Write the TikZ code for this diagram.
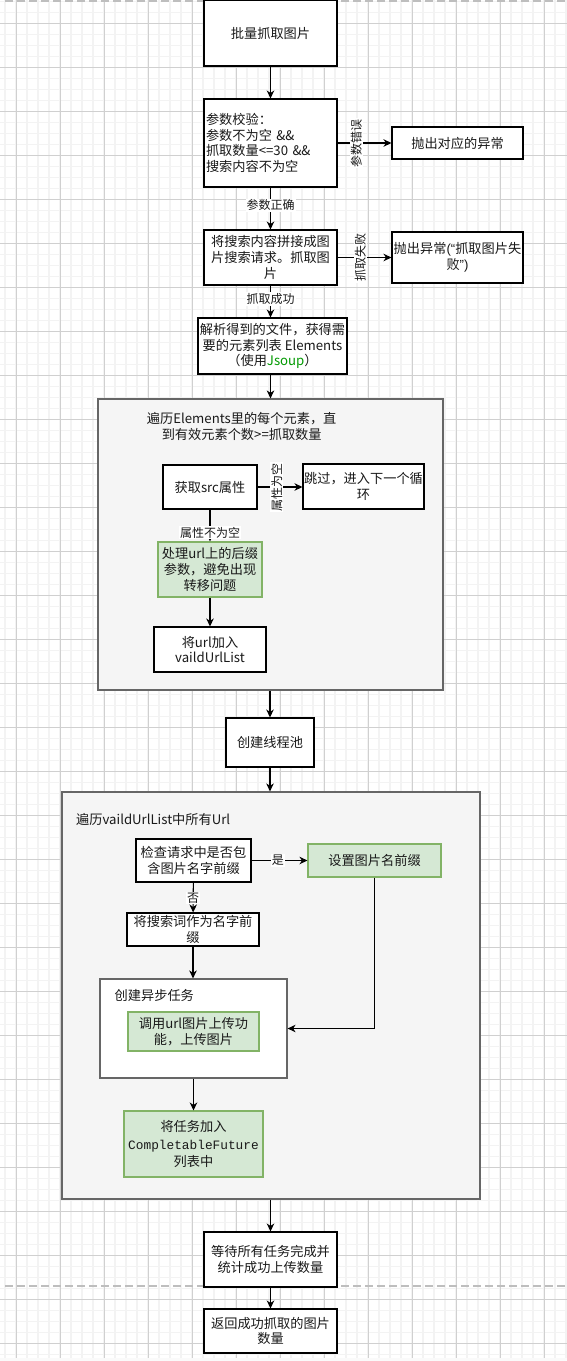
\documentclass[tikz,border=0pt]{standalone}
\usepackage{fontspec}
\setmainfont{Noto Sans CJK SC}
\newfontfamily\monofont{Liberation Mono}
\newfontfamily\latinfont{Liberation Sans}
\usetikzlibrary{arrows.meta}
\definecolor{gridmajor}{RGB}{208,208,208}
\definecolor{gridminor}{RGB}{243,243,243}
\definecolor{contfill}{RGB}{245,245,245}
\definecolor{contdraw}{RGB}{102,102,102}
\definecolor{greenfill}{RGB}{213,232,212}
\definecolor{greendraw}{RGB}{130,179,102}
\definecolor{jsoupgreen}{RGB}{0,153,0}
\definecolor{pagebreak}{RGB}{190,190,190}
\definecolor{txt}{RGB}{25,25,25}
\newcommand\bxfont{\fontsize{13.2}{15.7}\selectfont}
\newcommand\lblfont{\fontsize{12}{14}\selectfont}
\begin{document}
\begin{tikzpicture}[x=1pt,y=-1pt,
  box/.style={draw=black, line width=1.1pt, fill=white, inner sep=1pt, align=center, font=\bxfont, text=txt},
  gbox/.style={box, draw=greendraw, fill=greenfill},
  cont/.style={draw=contdraw, line width=1.2pt, fill=contfill, inner sep=0pt},
  arr/.style={-{Stealth[length=8pt,width=7.5pt,inset=2.5pt]}, line width=1.1pt, draw=black},
  lbl/.style={fill=white, inner sep=1pt, font=\lblfont, text=txt},
  ttl/.style={inner sep=0pt, font=\bxfont, text=txt, align=center}]
\useasboundingbox (0,0) rectangle (567,1361);
\fill[white] (0,0) rectangle (567,1361);
% grid
\foreach \x in {5,16,...,566} \draw[gridminor, line width=1.4pt] (\x,0) -- (\x,1361);
\foreach \y in {1.3,12.3,...,1360} \draw[gridminor, line width=1.4pt] (0,\y) -- (567,\y);
\foreach \x in {16,60,...,566} \draw[gridmajor, line width=0.9pt] (\x,0) -- (\x,1361);
\foreach \y in {23.3,67.3,...,1360} \draw[gridmajor, line width=0.9pt] (0,\y) -- (567,\y);
\fill[white!98!black] (0,1357.5) rectangle (567,1361);
% page breaks
\draw[pagebreak, line width=1.6pt, dash pattern=on 8pt off 4pt] (5,0.8) -- (567,0.8);
\draw[pagebreak, line width=1.6pt, dash pattern=on 8pt off 4pt] (5,1285.7) -- (567,1285.7);
% containers
\node[cont, minimum width=345pt, minimum height=291pt] (c1) at (270.5,544.5) {};
\node[cont, minimum width=418pt, minimum height=407pt] (c2) at (271,995.5) {};
\node[cont, fill=white, minimum width=187pt, minimum height=99pt] (c3) at (193.5,1028.5) {};
\node[ttl] (t1) at (241.7,426.7) {遍历Elements里的每个元素，直\\到有效元素个数>=抓取数量};
\node[ttl, anchor=west] (t2) at (76,819) {遍历vaildUrlList中所有Url};
\node[ttl, anchor=west] (t3) at (114.5,995) {创建异步任务};
% boxes
\node[box, minimum width=133pt, minimum height=66pt] (n1) at (270.5,33) {批量抓取图片};
\node[box, minimum width=133pt, minimum height=88pt, inner xsep=2pt, text width=129pt, align=left] (n2) at (270.5,143) {参数校验：\\参数不为空 \&\&\\抓取数量<=30 \&\&\\搜索内容不为空};
\node[box, minimum width=131pt, minimum height=32pt] (n3) at (457.5,143) {抛出对应的异常};
\node[box, minimum width=133pt, minimum height=55pt] (n4) at (270.5,257.5) {将搜索内容拼接成图\\片搜索请求。抓取图\\片};
\node[box, minimum width=131pt, minimum height=51pt, inner sep=0pt] (n5) at (457.5,257.5) {抛出异常{\latinfont (“}抓取图片失\\败{\latinfont ”)}};
\node[box, minimum width=149pt, minimum height=56pt, inner sep=0pt] (n6) at (272.5,346) {解析得到的文件，获得需\\要的元素列表 Elements\\（使用{\color{jsoupgreen}Jsoup}）};
\node[box, minimum width=94pt, minimum height=44pt] (n7) at (210,487) {获取src属性};
\node[box, minimum width=121pt, minimum height=45pt, inner sep=0pt] (n8) at (363.5,486.5) {跳过，进入下一个循\\环};
\node[gbox, minimum width=104pt, minimum height=55pt] (n9) at (210,569.5) {处理url上的后缀\\参数，避免出现\\转移问题};
\node[box, minimum width=112pt, minimum height=45pt] (n10) at (210,649.5) {将url加入\\vaildUrlList};
\node[box, minimum width=88pt, minimum height=49pt] (n11) at (270,742.5) {创建线程池};
\node[box, minimum width=115pt, minimum height=43pt] (n12) at (193.5,860.5) {检查请求中是否包\\含图片名字前缀};
\node[gbox, minimum width=133pt, minimum height=33pt] (n13) at (374.5,860.5) {设置图片名前缀};
\node[box, minimum width=132pt, minimum height=33pt, inner sep=0pt] (n14) at (193,929.5) {将搜索词作为名字前\\缀};
\node[gbox, minimum width=131pt, minimum height=39pt] (n15) at (193.5,1031.5) {调用url图片上传功\\能，上传图片};
\node[gbox, minimum width=139pt, minimum height=66pt, font=\fontsize{13.2}{17.5}\selectfont] (n16) at (193.5,1144) {将任务加入\\{\monofont\fontsize{12.8}{17.5}\selectfont CompletableFuture}\\列表中};
\node[box, minimum width=133pt, minimum height=55pt] (n17) at (270.5,1259.5) {等待所有任务完成并\\统计成功上传数量};
\node[box, minimum width=133pt, minimum height=44pt] (n18) at (270.5,1331) {返回成功抓取的图片\\数量};
% connectors
\draw[arr] (n1) -- (n2);
\draw[arr] (n2) -- node[lbl, rotate=90, pos=0.35] (l1) {参数错误} (n3);
\draw[arr] (n2) -- node[lbl, pos=0.42] (l2) {参数正确} (n4);
\draw[arr] (n4.east) -- node[lbl, rotate=90, pos=0.42] (l3) {抓取失败} (n4.east -| n5.west);
\draw[arr] (n4.south) -- node[lbl, pos=0.42] (l4) {抓取成功} (n4.south |- n6.north);
\draw[arr] (n4.south |- n6.south) -- (n4.south |- c1.north);
\draw[arr] (n7.east) -- node[lbl, rotate=90, pos=0.43] (l5) {属性为空} (n7.east -| n8.west);
\draw[arr] (n7) -- node[lbl, pos=0.73] (l6) {属性不为空} (n9);
\draw[arr] (n9) -- (n10);
\draw[arr] (c1.south -| n11.north) -- (n11.north);
\draw[arr] (n11.south) -- (n11.south |- c2.north);
\draw[arr] (n12) -- node[lbl, pos=0.47] (l7) {是} (n13);
\draw[arr] (n12) -- node[lbl, pos=0.52] (l8) {否} (n14);
\draw[arr] (n14.south) -- (n14.south |- c3.north);
\draw[arr] (n13.south) |- (c3.east);
\draw[arr] (c3.south) -- (n16.north);
\draw[arr] (n17.north |- c2.south) -- (n17.north);
\draw[arr] (n17) -- (n18);
\end{tikzpicture}
\end{document}
